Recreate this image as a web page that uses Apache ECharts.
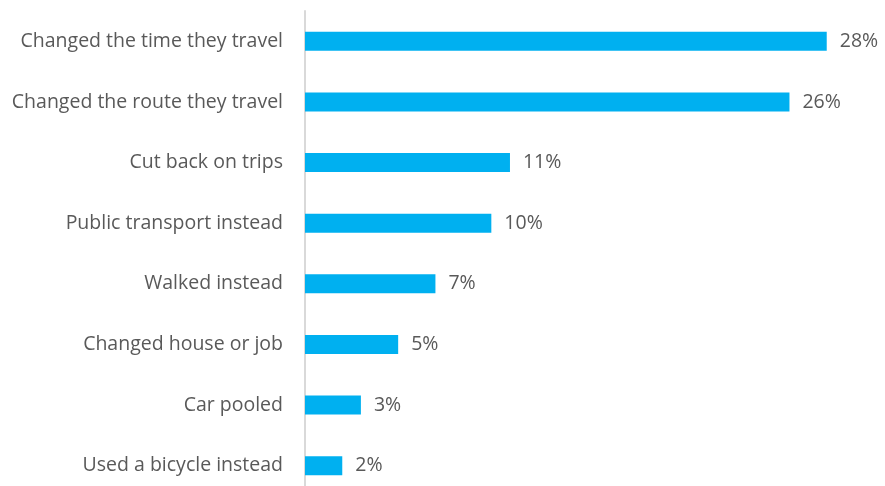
<!DOCTYPE html>
<html>
<head>
<meta charset="utf-8">
<script src="https://cdn.jsdelivr.net/npm/echarts@6/dist/echarts.min.js"></script>
<style>
  html, body { margin: 0; padding: 0; background: #ffffff; }
  #chart { width: 885px; height: 486px; }
</style>
</head>
<body>
<div id="chart"></div>
<script>
// Travel behaviour changes, share of respondents (%)
const categories = [
  'Changed the time they travel',
  'Changed the route they travel',
  'Cut back on trips',
  'Public transport instead',
  'Walked instead',
  'Changed house or job',
  'Car pooled',
  'Used a bicycle instead'
];
const values = [28, 26, 11, 10, 7, 5, 3, 2];

const chart = echarts.init(document.getElementById('chart'), null, { renderer: 'canvas' });
const font = '"Open Sans", "Noto Sans", sans-serif';

chart.setOption({
  animation: false,
  grid: {
    left: 305, width: 559, top: 11, height: 485,
    containLabel: false,
    outerBoundsMode: 'none'
  },
  xAxis: {
    type: 'value',
    min: 0,
    max: 30,
    show: false
  },
  yAxis: {
    type: 'category',
    inverse: true,
    data: categories,
    axisLine: { show: true, lineStyle: { color: '#d9d9d9', width: 2 } },
    axisTick: { show: false },
    axisLabel: {
      color: '#595959',
      fontFamily: font,
      fontSize: 19.5,
      margin: 22
    }
  },
  series: [{
    type: 'bar',
    data: values,
    barWidth: 19,
    itemStyle: { color: '#00b0f0' },
    label: {
      show: true,
      position: 'right',
      distance: 13,
      formatter: p => p.value + '%',
      color: '#595959',
      fontFamily: font,
      fontSize: 19.5
    }
  }]
});
</script>
</body>
</html>
